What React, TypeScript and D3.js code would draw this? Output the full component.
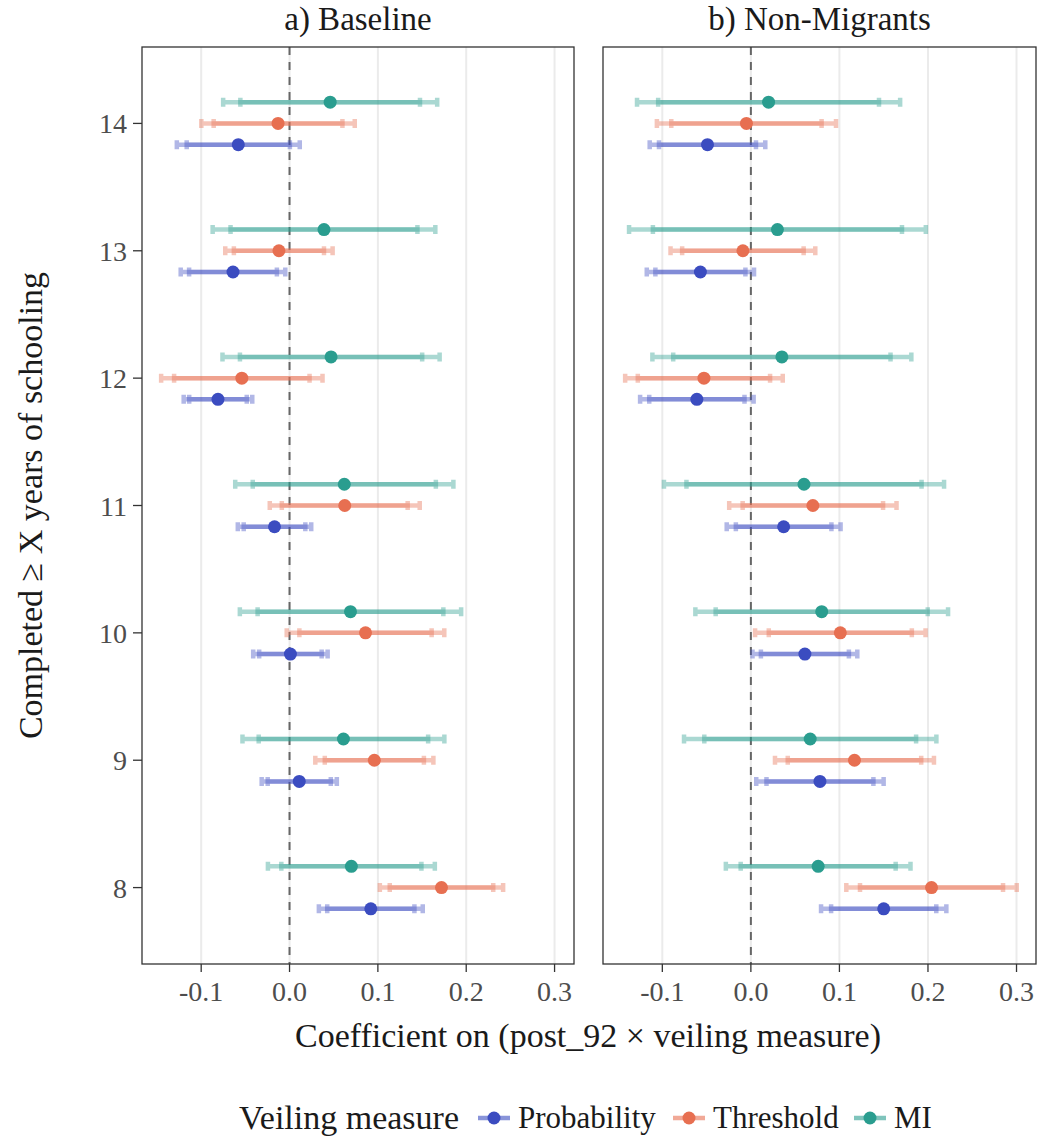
import React from "react";
import * as d3 from "d3";

// Schooling thresholds (years completed) on the vertical axis
const years = [8, 9, 10, 11, 12, 13, 14];
const measures = ["Probability", "Threshold", "MI"];
const measureColors = ["#3B4CC0", "#E76F51", "#2A9D8F"];
const panelTitles = ["a) Baseline", "b) Non-Migrants"];
const xTicks = [-0.1, 0.0, 0.1, 0.2, 0.3];

// a) Baseline: point estimates and standard errors, ordered by years 8..14
const baseProbEst = [0.092, 0.011, 0.001, -0.017, -0.081, -0.064, -0.058];
const baseProbSe = [0.030, 0.0217, 0.0215, 0.0212, 0.0198, 0.0302, 0.0355];
const baseThrEst = [0.172, 0.096, 0.086, 0.0625, -0.054, -0.012, -0.013];
const baseThrSe = [0.0356, 0.0341, 0.0455, 0.0433, 0.0466, 0.031, 0.0443];
const baseMiEst = [0.070, 0.061, 0.069, 0.062, 0.047, 0.039, 0.046];
const baseMiSe = [0.0482, 0.0583, 0.0639, 0.063, 0.0627, 0.0643, 0.0618];

// b) Non-Migrants
const nonmigProbEst = [0.150, 0.078, 0.061, 0.037, -0.061, -0.057, -0.049];
const nonmigProbSe = [0.0361, 0.0367, 0.0302, 0.0328, 0.0327, 0.0309, 0.0333];
const nonmigThrEst = [0.204, 0.117, 0.101, 0.070, -0.053, -0.009, -0.005];
const nonmigThrSe = [0.0491, 0.0458, 0.0491, 0.0482, 0.0454, 0.0417, 0.0516];
const nonmigMiEst = [0.076, 0.067, 0.080, 0.060, 0.035, 0.030, 0.020];
const nonmigMiSe = [0.0532, 0.0727, 0.0728, 0.0807, 0.0746, 0.0855, 0.0758];

const panelData = [
  [
    { est: baseProbEst, se: baseProbSe },
    { est: baseThrEst, se: baseThrSe },
    { est: baseMiEst, se: baseMiSe },
  ],
  [
    { est: nonmigProbEst, se: nonmigProbSe },
    { est: nonmigThrEst, se: nonmigThrSe },
    { est: nonmigMiEst, se: nonmigMiSe },
  ],
];

const Z95 = 1.96;
const Z90 = 1.645;
// vertical dodge: Probability below, Threshold centred, MI above
const DODGE = [-1 / 6, 0, 1 / 6];

const W = 1037;
const H = 1138;
const FONT = "'Liberation Serif', 'DejaVu Serif', serif";
const panelX = [
  [142, 574],
  [603, 1036],
];
const panelTop = 47;
const panelBottom = 964;

const yScale = d3.scaleLinear().domain([7.4, 14.6]).range([panelBottom, panelTop]);
const fmtTick = (t: number) => d3.format(".1f")(t).replace("\u2212", "-");

function barPath(x0: number, x1: number, y: number, h: number) {
  return `M${x0},${y - h}L${x0},${y + h}M${x0},${y}L${x1},${y}M${x1},${y - h}L${x1},${y + h}`;
}

function Panel({ idx }: { idx: number }) {
  const [left, right] = panelX[idx];
  const x = d3.scaleLinear().domain([-0.167, 0.322]).range([left, right]);
  const series = panelData[idx];
  return (
    <g>
      {xTicks.map((t) => (
        <line key={"g" + t} x1={x(t)} x2={x(t)} y1={panelTop} y2={panelBottom} stroke="#EBEBEB" strokeWidth={2} />
      ))}
      <line x1={x(0)} x2={x(0)} y1={panelTop} y2={panelBottom} stroke="#666" strokeWidth={2} strokeDasharray="8,7" />
      {series.map((s, mi) =>
        years.map((yr, i) => {
          const yy = yScale(yr + DODGE[mi]);
          const e = s.est[i];
          const se = s.se[i];
          const col = measureColors[mi];
          return (
            <g key={mi + "-" + yr}>
              <path d={barPath(x(e - Z95 * se), x(e + Z95 * se), yy, 4.5)} fill="none" stroke={col} strokeOpacity={0.4} strokeWidth={4.5} />
              <path d={barPath(x(e - Z90 * se), x(e + Z90 * se), yy, 4.5)} fill="none" stroke={col} strokeOpacity={0.4} strokeWidth={4.5} />
              <circle cx={x(e)} cy={yy} r={6.5} fill={col} />
            </g>
          );
        })
      )}
      <rect x={left} y={panelTop} width={right - left} height={panelBottom - panelTop} fill="none" stroke="#333" strokeWidth={1.3} />
      {xTicks.map((t) => (
        <g key={"t" + t}>
          <line x1={x(t)} x2={x(t)} y1={panelBottom} y2={panelBottom + 8} stroke="#333" strokeWidth={1.3} />
          <text x={x(t)} y={panelBottom + 37} textAnchor="middle" fontSize={28} fill="#4D4D4D" fontFamily={FONT}>
            {fmtTick(t)}
          </text>
        </g>
      ))}
      <text x={(left + right) / 2} y={30} textAnchor="middle" fontSize={33} fill="#1A1A1A" fontFamily={FONT}>
        {panelTitles[idx]}
      </text>
    </g>
  );
}

export default function App() {
  const legendKeys = [
    { x0: 478, tx: 518 },
    { x0: 673, tx: 713 },
    { x0: 854, tx: 894 },
  ];
  const legendY = 1118;
  return (
    <svg width={W} height={H} style={{ position: "absolute", left: 0, top: 0, background: "#fff" }}>
      <rect width={W} height={H} fill="#fff" />
      {years.map((yr) => (
        <g key={"y" + yr}>
          <line x1={133} x2={142} y1={yScale(yr)} y2={yScale(yr)} stroke="#333" strokeWidth={1.3} />
          <text x={127} y={yScale(yr) + 10} textAnchor="end" fontSize={28} fill="#4D4D4D" fontFamily={FONT}>
            {yr}
          </text>
        </g>
      ))}
      <Panel idx={0} />
      <Panel idx={1} />
      <text
        transform={`translate(42,${(panelTop + panelBottom) / 2}) rotate(-90)`}
        textAnchor="middle"
        fontSize={34}
        fill="#1A1A1A"
        fontFamily={FONT}
      >
        Completed ≥ X years of schooling
      </text>
      <text x={588} y={1047} textAnchor="middle" fontSize={34} fill="#1A1A1A" fontFamily={FONT}>
        Coefficient on (post_92 × veiling measure)
      </text>
      <text x={239} y={legendY + 11} fontSize={34} fill="#1A1A1A" fontFamily={FONT}>
        Veiling measure
      </text>
      {measures.map((m, i) => (
        <g key={m}>
          <line x1={legendKeys[i].x0} x2={legendKeys[i].x0 + 32} y1={legendY} y2={legendY} stroke={measureColors[i]} strokeOpacity={0.6} strokeWidth={4.5} />
          <circle cx={legendKeys[i].x0 + 16} cy={legendY} r={6.5} fill={measureColors[i]} />
          <text x={legendKeys[i].tx} y={legendY + 10} fontSize={31} fill="#1A1A1A" fontFamily={FONT}>
            {m}
          </text>
        </g>
      ))}
    </svg>
  );
}
